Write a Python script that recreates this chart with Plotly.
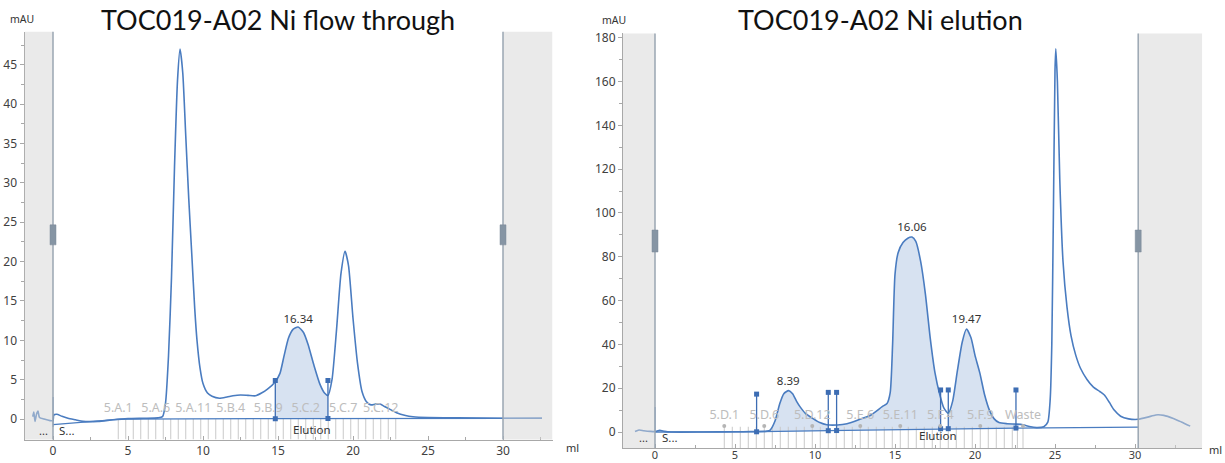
import numpy as np
import plotly.graph_objects as go

# ---------------- data: flow through (left) ----------------
ft_x = [-1.35, -1.28, -1.2, -1.1, -1.0, -0.9, -0.6, -0.2, 0.0, 0.05, 0.25, 0.6, 1.0, 1.5, 2.0, 3.0, 4.0, 5.0, 6.0,
        7.0, 7.3, 7.5, 7.7, 7.9, 8.1, 8.3, 8.47, 8.65, 8.85, 9.05, 9.25, 9.45, 9.6, 9.8, 10.0, 10.3, 10.6,
        11.1, 11.6, 12.0, 12.5, 13.0, 13.5, 13.9, 14.3, 14.82, 15.13, 15.4, 15.7, 16.0, 16.34, 16.7, 17.0,
        17.4, 17.8, 18.1, 18.33, 18.6, 18.9, 19.2, 19.47, 19.7, 20.0, 20.3, 20.6, 20.9, 21.2, 21.5, 21.8,
        22.1, 22.5, 22.9, 23.5, 24.0, 25.0, 27.0, 30.0, 32.6]
ft_y = [0.3, 0.9, -0.3, 0.6, 1.0, 0.2, 0.0, -0.2, -0.2, 0.5, 0.6, 0.35, 0.1, -0.1, -0.3, -0.3, -0.1, 0.05, 0.1,
        0.15, 0.3, 2.0, 8.0, 18.0, 32.0, 43.0, 47.0, 44.0, 36.0, 28.0, 21.0, 14.0, 10.0, 6.5, 4.5, 3.3, 2.9,
        2.65, 2.8, 2.95, 3.05, 3.0, 2.95, 3.3, 3.8, 4.75, 5.8, 8.0, 10.3, 11.4, 11.7, 11.0, 9.5,
        6.8, 4.4, 3.3, 3.0, 5.0, 11.3, 18.5, 21.3, 19.5, 12.8, 7.1, 3.5, 2.2, 1.8, 1.9, 1.9,
        1.6, 1.2, 0.8, 0.45, 0.3, 0.2, 0.15, 0.1, 0.1]
ft_base_x = [0.0, 4.5, 15.0, 32.6]
ft_base_y = [-0.7, 0.0, 0.05, 0.1]
ft_marks_x = [14.82, 18.33]
ft_marks_top = [4.9, 4.9]
ft_peak_x = [16.34]
ft_peak_y = [12.6]
ft_peak_lbl = ["16.34"]
ft_frac_x = [4.35, 4.85, 5.35, 5.85, 6.35, 6.85, 7.35, 7.85, 8.35, 8.85, 9.35, 9.85, 10.35, 10.85, 11.35,
             11.85, 12.35, 12.85, 13.35, 13.85, 14.35, 14.85, 15.35, 15.85, 16.35, 16.85, 17.35, 17.85,
             18.35, 18.85, 19.35, 19.85, 20.35, 20.85, 21.35, 21.85, 22.35, 22.85]
ft_frac_lbl_x = [4.35, 6.85, 9.35, 11.85, 14.35, 16.85, 19.35, 21.85]
ft_frac_lbl = ["5.A.1", "5.A.6", "5.A.11", "5.B.4", "5.B.9", "5.C.2", "5.C.7", "5.C.12"]

# ---------------- data: elution (right) ----------------
el_x = [-1.25, -1.0, -0.7, -0.3, 0.0, 0.3, 0.6, 1.0, 3.0, 5.0, 6.0, 7.0, 7.2, 7.5, 7.8, 8.05, 8.35, 8.6,
        8.85, 9.06, 9.4, 9.9, 10.3, 10.73, 11.4, 12.0, 12.8, 13.5, 14.2, 14.5, 14.7, 14.85, 15.0, 15.2,
        15.5, 15.8, 16.06, 16.3, 16.6, 16.9, 17.2, 17.5, 17.8, 18.05, 18.33, 18.6, 18.9, 19.2, 19.47,
        19.75, 20.0, 20.3, 20.6, 20.9, 21.2, 21.5, 22.0, 22.6, 23.0, 23.4, 23.85, 24.3, 24.55, 24.7,
        24.8, 24.9, 25.0, 25.05, 25.15, 25.3, 25.5, 25.75, 26.0, 26.3, 26.6, 27.0, 27.4, 27.8, 28.1,
        28.4, 28.7, 29.1, 29.6, 30.2, 30.8, 31.3, 31.8, 32.4, 32.9, 33.45]
el_y = [0.2, 0.9, 0.6, 0.3, 0.2, 0.8, 0.3, 0.0, 0.0, 0.1, 0.2, 0.4, 0.9, 5.0, 13.0, 17.5, 18.9, 17.5,
        14.0, 11.6, 8.5, 6.0, 4.3, 3.3, 3.2, 3.8, 5.8, 7.8, 11.6, 13.0, 18.0, 40.0, 72.0, 82.0,
        86.5, 88.5, 89.0, 87.0, 78.0, 63.0, 43.0, 27.0, 17.0, 11.0, 8.5, 14.0, 28.0, 41.0, 47.0,
        43.0, 35.0, 27.0, 17.0, 10.0, 6.0, 4.3, 3.8, 3.6, 3.3, 2.5, 2.0, 2.4, 4.5, 15.0,
        40.0, 100.0, 165.0, 175.0, 160.0, 115.0, 78.0, 57.0, 44.0, 35.0, 29.0, 24.0, 20.5, 18.5, 16.8,
        13.5, 10.0, 7.2, 6.0, 5.8, 6.8, 7.8, 7.6, 6.2, 4.6, 2.7]
el_base_x = [0.0, 6.35, 10.83, 17.85, 22.6, 30.2]
el_base_y = [0.0, 0.1, 0.6, 1.5, 1.8, 2.2]
el_marks_x = [6.35, 10.83, 11.35, 17.85, 18.33, 22.56]
el_marks_top = [17.3, 18.1, 18.1, 19.2, 19.2, 19.2]
el_regions = [(6.35, 10.83), (11.35, 17.85), (18.33, 22.56)]
el_peak_x = [8.33, 16.06, 19.47]
el_peak_y = [22.8, 93.0, 51.0]
el_peak_lbl = ["8.39", "16.06", "19.47"]
el_frac_x = [4.33, 4.83, 5.33, 5.83, 6.33, 6.83, 7.33, 7.83, 8.33, 8.83, 9.33, 9.83, 10.33, 10.83, 11.33,
             11.83, 12.33, 12.83, 13.33, 13.83, 14.33, 14.83, 15.33, 15.83, 16.33, 16.83, 17.33, 17.83,
             18.33, 18.83, 19.33, 19.83, 20.33, 20.83, 21.33, 21.83, 22.33, 22.65, 23.0]
el_frac_lbl_x = [4.33, 6.83, 9.83, 12.83, 15.33, 17.83, 20.33, 23.0]
el_frac_lbl = ["5.D.1", "5.D.6", "5.D.12", "5.E.6", "5.E.11", "5.F.4", "5.F.9", "Waste"]

# ---------------- styling ----------------
W, H = 1225, 463

def fxp(p):
    return p / W

def fyp(p):
    return 1 - p / H

BLUE = "#4a7cc0"
MARK = "#3d6db3"
FILL = "rgba(74,124,192,0.22)"
FRAC = "#c9c9c9"
AXC = "#a8a8a8"
TXT = "#333333"
FONT = "Noto Sans"

L_X = [-1.9, 33.3]
L_Y = [-2.6, 49.2]
R_X = [-2.0, 34.2]
R_Y = [-7.3, 182.0]

fig = go.Figure()

def vlines(xs, y0s, y1s):
    xx, yy = [], []
    for x, a, b in zip(xs, y0s, y1s):
        xx += [x, x, None]
        yy += [a, b, None]
    return xx, yy

def region_poly(cx, cy, bx, by, a, b):
    cx = np.asarray(cx, float); cy = np.asarray(cy, float)
    inner = (cx > a) & (cx < b)
    xs = np.concatenate([[a], cx[inner], [b]])
    ys = np.concatenate([[np.interp(a, cx, cy)], cy[inner], [np.interp(b, cx, cy)]])
    bxs = xs[::-1]
    bys = np.interp(bxs, bx, by)
    return list(xs) + list(bxs), list(ys) + list(bys)

def panel(xa, ya, cx, cy, bx, by, regions, mx, mtop, fx, fy_top, fy_bot, flx, fll, fly,
          pkx, pky, pkl, spike):
    for a, b in regions:
        px_, py_ = region_poly(cx, cy, bx, by, a, b)
        fig.add_trace(go.Scatter(x=px_, y=py_, mode="lines", fill="toself", fillcolor=FILL,
                                 line=dict(width=0), hoverinfo="skip", xaxis=xa, yaxis=ya))
    xx, yy = vlines(fx, [fy_bot] * len(fx), [fy_top] * len(fx))
    fig.add_trace(go.Scatter(x=xx, y=yy, mode="lines", line=dict(color=FRAC, width=1),
                             hoverinfo="skip", xaxis=xa, yaxis=ya))
    fig.add_trace(go.Scatter(x=bx, y=by, mode="lines", line=dict(color=BLUE, width=1.3),
                             hoverinfo="skip", xaxis=xa, yaxis=ya))
    fig.add_trace(go.Scatter(x=[0, 0], y=spike, mode="lines", line=dict(color=BLUE, width=1),
                             hoverinfo="skip", xaxis=xa, yaxis=ya))
    fig.add_trace(go.Scatter(x=cx, y=cy, mode="lines", line=dict(color=BLUE, width=1.6, shape="spline",
                             smoothing=0.6), hoverinfo="skip", xaxis=xa, yaxis=ya))
    mb = list(np.interp(mx, bx, by))
    xx, yy = vlines(mx, mb, mtop)
    fig.add_trace(go.Scatter(x=xx, y=yy, mode="lines", line=dict(color=MARK, width=1.3),
                             hoverinfo="skip", xaxis=xa, yaxis=ya))
    fig.add_trace(go.Scatter(x=list(mx) + list(mx), y=list(mtop) + mb, mode="markers",
                             marker=dict(symbol="square", size=5, color=MARK),
                             hoverinfo="skip", xaxis=xa, yaxis=ya))
    fig.add_trace(go.Scatter(x=flx, y=[fly] * len(flx), mode="text", text=fll,
                             textfont=dict(family=FONT, size=12.5, color="#bdbdbd"),
                             hoverinfo="skip", xaxis=xa, yaxis=ya))
    fig.add_trace(go.Scatter(x=pkx, y=pky, mode="text", text=pkl,
                             textfont=dict(family=FONT, size=11.5, color=TXT),
                             hoverinfo="skip", xaxis=xa, yaxis=ya))

panel("x", "y", ft_x, ft_y, ft_base_x, ft_base_y, [(14.82, 18.33)], ft_marks_x, ft_marks_top,
      ft_frac_x, 0.0, L_Y[0], ft_frac_lbl_x, ft_frac_lbl, 1.3, ft_peak_x, ft_peak_y, ft_peak_lbl, [-1.0, 2.8])

panel("x2", "y2", el_x, el_y, el_base_x, el_base_y, el_regions, el_marks_x, el_marks_top,
      el_frac_x, 2.4, R_Y[0], el_frac_lbl_x, el_frac_lbl, 7.4, el_peak_x, el_peak_y, el_peak_lbl, [0.0, 11.4])
fig.add_trace(go.Scatter(x=el_frac_lbl_x, y=[2.7] * len(el_frac_lbl_x), mode="markers",
                         marker=dict(size=4, color="#b5b5b5"), hoverinfo="skip", xaxis="x2", yaxis="y2"))

# ---------------- shapes ----------------
shapes = []
for xr, yr, rng, edge in [("x", "y", L_X, 30.0), ("x2", "y2", R_X, 30.2)]:
    shapes.append(dict(type="rect", xref=xr, yref=yr + " domain", x0=rng[0], x1=0, y0=0, y1=1,
                       layer="above", fillcolor="rgba(214,214,214,0.5)", line=dict(width=0)))
    shapes.append(dict(type="rect", xref=xr, yref=yr + " domain", x0=edge, x1=rng[1], y0=0, y1=1,
                       layer="above", fillcolor="rgba(214,214,214,0.5)", line=dict(width=0)))
    for xv in (0, edge):
        shapes.append(dict(type="line", xref=xr, yref=yr + " domain", x0=xv, x1=xv, y0=0, y1=1,
                           layer="above", line=dict(color="#9aa6b2", width=1.5)))

for xr, yr, yc, hh in [("x", "y", 23.4, 10), ("x2", "y2", 87.2, 11)]:
    for xv in (0, 30.0 if xr == "x" else 30.2):
        shapes.append(dict(type="rect", xref=xr, yref=yr, xsizemode="pixel", xanchor=xv,
                           x0=-3, x1=3, ysizemode="pixel", yanchor=yc, y0=-hh, y1=hh,
                           layer="above", fillcolor="#8695a4", line=dict(color="#7a8898", width=0.5)))

# ---------------- annotations ----------------
ann = []
def txt(x, y, s, size, color=TXT, family=FONT, xanchor="center", xref="paper", yref="paper"):
    ann.append(dict(x=x, y=y, xref=xref, yref=yref, text=s, showarrow=False, xanchor=xanchor,
                    yanchor="middle", font=dict(family=family, size=size, color=color)))

txt(fxp(278), fyp(19), "TOC019-A02 Ni flow through", 27, color="#111111", family="Lato")
txt(fxp(880), fyp(19), "TOC019-A02 Ni elution", 27, color="#111111", family="Lato")
txt(fxp(22), fyp(19), "mAU", 10.5)
txt(fxp(614), fyp(20), "mAU", 10.5)
txt(fxp(572), fyp(447), "ml", 11)
txt(fxp(1215), fyp(449), "ml", 11)
txt(17.27, -1.3, "Elution", 11.5, xref="x", yref="y")
txt(17.7, -1.4, "Elution", 11.5, xref="x2", yref="y2")
txt(-0.65, -1.4, "...", 11, xref="x", yref="y")
txt(0.95, -1.4, "S...", 11.5, xref="x", yref="y")
txt(-0.75, -2.3, "...", 11, xref="x2", yref="y2")
txt(0.95, -2.3, "S...", 11.5, xref="x2", yref="y2")

axis_common = dict(showgrid=False, zeroline=False, showline=True, linecolor=AXC, linewidth=1,
                   tickcolor=AXC, tickfont=dict(family=FONT, size=12, color="#404040"),
                   automargin=False)

fig.update_layout(
    width=W, height=H, margin=dict(l=0, r=0, t=0, b=0, autoexpand=False),
    paper_bgcolor="white", plot_bgcolor="white", showlegend=False,
    shapes=shapes, annotations=ann,
    xaxis=dict(domain=[fxp(24.5), fxp(552.5)], range=L_X, anchor="y", ticks="inside", ticklen=4,
               tickvals=[0, 5, 10, 15, 20, 25, 30],
               minor=dict(tickvals=[2.5, 7.5, 12.5, 17.5, 22.5, 27.5, 32.5], ticks="inside", ticklen=3,
                          tickcolor=AXC),
               **axis_common),
    yaxis=dict(domain=[fyp(439.5), fyp(31.8)], range=L_Y, anchor="x", ticks="outside", ticklen=4,
               tickvals=[0, 5, 10, 15, 20, 25, 30, 35, 40, 45],
               minor=dict(tickvals=[2.5, 7.5, 12.5, 17.5, 22.5, 27.5, 32.5, 37.5, 42.5, 47.5],
                          ticks="outside", ticklen=3, tickcolor=AXC),
               **axis_common),
    xaxis2=dict(domain=[fxp(623), fxp(1202.2)], range=R_X, anchor="y2", ticks="inside", ticklen=4,
                tickvals=[0, 5, 10, 15, 20, 25, 30], ticklabelstandoff=-3,
                minor=dict(tickvals=[-2.5, 2.5, 7.5, 12.5, 17.5, 22.5, 27.5, 32.5], ticks="inside",
                           ticklen=3, tickcolor=AXC),
                **axis_common),
    yaxis2=dict(domain=[fyp(448), fyp(33.4)], range=R_Y, anchor="x2", ticks="outside", ticklen=4,
                tickvals=[0, 20, 40, 60, 80, 100, 120, 140, 160, 180],
                minor=dict(tickvals=[10, 30, 50, 70, 90, 110, 130, 150, 170], ticks="outside", ticklen=3,
                           tickcolor=AXC),
                **axis_common),
)
fig.update_xaxes(selector=dict(anchor="y2"), tickfont=dict(family=FONT, size=11, color="#404040"))

# remove the browser's default 8px page margin so the figure fills the window exactly
fig.write_html("out.html", config={"displayModeBar": False},
               post_script="document.body.style.margin='0px';")
